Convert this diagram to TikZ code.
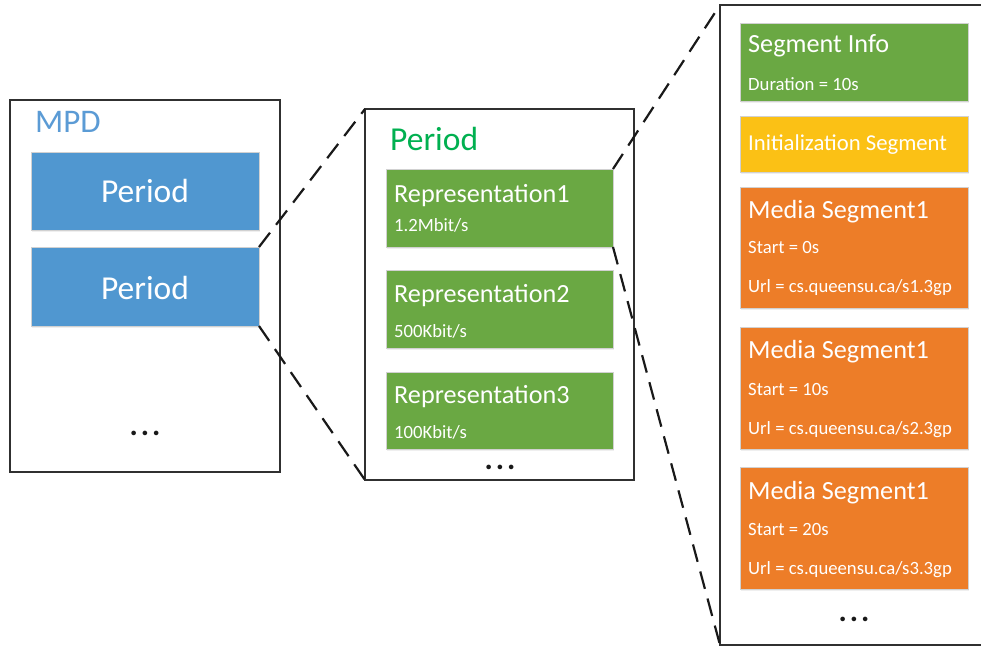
\documentclass[tikz,border=0pt]{standalone}
\usepackage{fontspec}
\setmainfont{Carlito}
\usetikzlibrary{shadows}
\definecolor{periodblue}{HTML}{5097D0}
\definecolor{labelblue}{HTML}{5B9BD5}
\definecolor{repgreen}{HTML}{6AA843}
\definecolor{labelgreen}{HTML}{00B050}
\definecolor{segorange}{HTML}{ED7D28}
\definecolor{segyellow}{HTML}{FBC115}
\definecolor{framegray}{HTML}{303030}
\begin{document}
\begin{tikzpicture}[x=1pt,y=-1pt,
  frame/.style={draw=framegray, line width=1.6pt, fill=white, anchor=north west, outer sep=0pt, inner sep=0pt},
  box/.style={draw=black!18, line width=0.8pt, fill=#1, anchor=north west, outer sep=0pt, inner sep=0pt,
    drop shadow={opacity=0.12, shadow xshift=1pt, shadow yshift=-2pt}},
  zoomline/.style={draw=black!90, line width=2.2pt, dash pattern=on 18pt off 10pt},
  bigtext/.style={text=white, font=\fontsize{33.5}{40}\selectfont, inner sep=0pt, anchor=base},
  heading/.style={font=\fontsize{33.5}{40}\selectfont, inner sep=0pt, anchor=base west},
  titletext/.style={text=white, font=\fontsize{26.2}{31}\selectfont, anchor=base west, inner sep=0pt},
  subtext/.style={text=white, font=\fontsize{18.7}{22}\selectfont, anchor=base west, inner sep=0pt},
  dotstext/.style={font=\fontsize{31}{31}\selectfont\bfseries, inner sep=0pt, text=black!90}
]
\useasboundingbox (0,0) rectangle (981,647);
\clip (0,0) rectangle (981,647);
\fill[white] (0,0) rectangle (981,647);

% MPD frame
\node[frame, minimum width=270pt, minimum height=372pt] (mpd) at (10,100) {};
\node[heading, text=labelblue, font=\fontsize{33}{40}\selectfont] (mpdlabel) at (35,133) {MPD};
\node[box=periodblue, minimum width=228pt, minimum height=78pt] (per1) at (31,152) {};
\node[box=periodblue, minimum width=228pt, minimum height=79pt] (per2) at (31,247) {};
\node[bigtext] (per1t) at (145,202) {Period};
\node[bigtext] (per2t) at (145,299) {Period};
\node[dotstext] (mpddots) at (145,433) {.\hspace{3pt}.\hspace{3pt}.};

% Period frame
\node[frame, minimum width=269pt, minimum height=371pt] (mid) at (365,109) {};
\node[heading, text=labelgreen] (midlabel) at (390,151) {Period};
\node[box=repgreen, minimum width=227pt, minimum height=78pt] (rep1) at (386,169) {};
\node[box=repgreen, minimum width=227pt, minimum height=78pt] (rep2) at (386,270) {};
\node[box=repgreen, minimum width=227pt, minimum height=77pt] (rep3) at (386,372) {};
\node[titletext] (rep1t) at (394,202) {Representation1};
\node[subtext] (rep1s) at (394,231) {1.2Mbit/s};
\node[titletext] (rep2t) at (394,302) {Representation2};
\node[subtext] (rep2s) at (394,337) {500Kbit/s};
\node[titletext] (rep3t) at (394,403) {Representation3};
\node[subtext] (rep3s) at (394,438) {100Kbit/s};
\node[dotstext] (middots) at (500,467) {.\hspace{3pt}.\hspace{3pt}.};

% Representation frame
\node[frame, minimum width=290pt, minimum height=640pt] (right) at (720,5) {};
\node[box=repgreen, minimum width=228pt, minimum height=78pt] (info) at (740,23) {};
\node[box=segyellow, minimum width=228pt, minimum height=56pt] (init) at (740,116) {};
\node[box=segorange, minimum width=228pt, minimum height=121pt] (med1) at (740,187) {};
\node[box=segorange, minimum width=228pt, minimum height=122pt] (med2) at (740,327) {};
\node[box=segorange, minimum width=228pt, minimum height=122pt] (med3) at (740,467) {};
\node[titletext] (infot) at (748,53) {Segment Info};
\node[subtext] (infos) at (748,91) {Duration = 10s};
\node[titletext, font=\fontsize{22.7}{27}\selectfont] (initt) at (748,151) {Initialization Segment};
\node[titletext] (med1t) at (748,218) {Media Segment1};
\node[subtext] (med1a) at (748,253) {Start = 0s};
\node[subtext] (med1b) at (748,292) {Url = cs.queensu.ca/s1.3gp};
\node[titletext] (med2t) at (748,358) {Media Segment1};
\node[subtext] (med2a) at (748,395) {Start = 10s};
\node[subtext] (med2b) at (748,434) {Url = cs.queensu.ca/s2.3gp};
\node[titletext] (med3t) at (748,499) {Media Segment1};
\node[subtext] (med3a) at (748,535) {Start = 20s};
\node[subtext] (med3b) at (748,574) {Url = cs.queensu.ca/s3.3gp};
\node[dotstext] (rightdots) at (854,619) {.\hspace{3pt}.\hspace{3pt}.};

% zoom-in connectors
\draw[zoomline] (per2.north east) -- (mid.north west);
\draw[zoomline] (per2.south east) -- (mid.south west);
\draw[zoomline] (rep1.north east) -- (right.north west);
\draw[zoomline] (rep1.south east) -- (right.south west);
\end{tikzpicture}
\end{document}
